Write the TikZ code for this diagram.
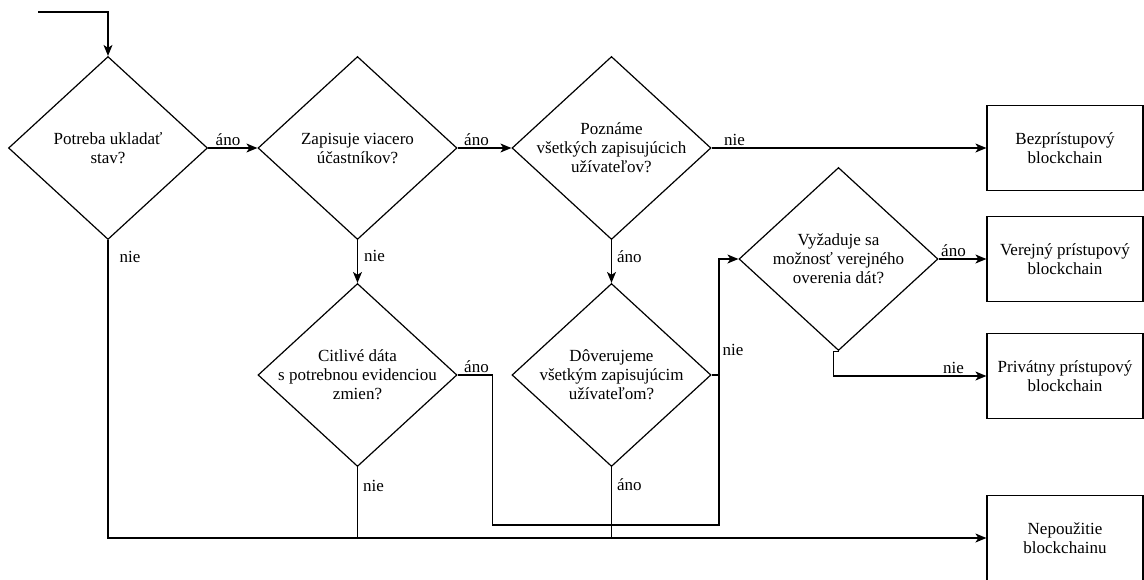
\documentclass[tikz,border=0pt]{standalone}
\usepackage{fontspec}
\setmainfont{Liberation Serif}
\usetikzlibrary{positioning, arrows.meta, shapes.geometric}

\begin{document}
\begin{tikzpicture}[x=1pt, y=-1pt, line width=1.2pt,
    font=\fontsize{17}{19}\selectfont,
    decision/.style={draw, diamond, minimum width=199pt, minimum height=183pt, inner sep=0pt},
    question/.style={align=center, inner sep=0pt},
    outcome/.style={draw, rectangle, minimum width=156pt, minimum height=85pt, align=center},
    answer/.style={inner sep=2pt},
    flow/.style={-{Stealth[length=11pt, width=9pt, inset=3pt]}}]
    \useasboundingbox (0,0) rectangle (1144,579);

    % decisions
    \node[decision] (d1) at (108,148) {};
    \node[decision] (d2) at (357.5,148) {};
    \node[decision] (d3) at (611.5,148) {};
    \node[decision] (d4) at (357.5,375) {};
    \node[decision] (d5) at (611.5,375) {};
    \node[decision] (d6) at (838.5,259) {};

    \node[question] (q1) at (d1) {Potreba ukladať\\stav?};
    \node[question] (q2) at (d2) {Zapisuje viacero\\účastníkov?};
    \node[question] (q3) at (d3) {Poznáme\\všetkých zapisujúcich\\užívateľov?};
    \node[question] (q4) at (d4) {Citlivé dáta\\s potrebnou evidenciou\\zmien?};
    \node[question] (q5) at (d5) {Dôverujeme\\všetkým zapisujúcim\\užívateľom?};
    \node[question] (q6) at (d6) {Vyžaduje sa\\možnosť verejného\\overenia dát?};

    % outcomes
    \node[outcome] (r1) at (1065,148) {Bezprístupový\\blockchain};
    \node[outcome] (r2) at (1065,259) {Verejný prístupový\\blockchain};
    \node[outcome] (r3) at (1065,376) {Privátny prístupový\\blockchain};
    \node[outcome] (r4) at (1065,538) {Nepoužitie\\blockchainu};

    \coordinate (entry) at (38,12);
    \coordinate (jn) at (719,525);

    % connectors
    \draw[flow] (entry) -| (d1.north);
    \draw[flow] (d1.east) -- node[answer, pos=0, anchor=south west, xshift=5pt] {áno} (d2.west);
    \draw[flow] (d1.south) -- node[answer, pos=0, anchor=north west, xshift=9pt, yshift=-9pt] {nie} (d1.south |- r4.west) -- (r4.west);
    \draw[flow] (d2.east) -- node[answer, pos=0, anchor=south west, xshift=4pt] {áno} (d3.west);
    \draw[flow] (d2.south) -- node[answer, pos=0, anchor=north west, xshift=4pt, yshift=-8pt] {nie} (d4.north);
    \draw[flow] (d3.east) -- node[answer, pos=0, anchor=south west, xshift=10pt] {nie} (r1.west);
    \draw[flow] (d3.south) -- node[answer, pos=0, anchor=north west, xshift=3pt, yshift=-8pt] {áno} (d5.north);
    \draw[flow] (d4.east) -- node[answer, pos=0, anchor=south west, xshift=4pt] {áno} ++(35,0) |- (jn) |- (d6.west);
    \draw (d4.south) -- node[answer, pos=0, anchor=north west, xshift=3pt, yshift=-11pt] {nie} (d4.south |- r4.west);
    \draw (d5.east) -- (d5.east -| jn) node[answer, anchor=south west, xshift=1pt, yshift=17pt] {nie};
    \draw (d5.south) -- node[answer, pos=0, anchor=north west, xshift=3pt, yshift=-9pt] {áno} (d5.south |- r4.west);
    \draw[flow] (d6.east) -- node[answer, pos=0, anchor=south west] {áno} (r2.west);
    \draw[flow] (d6.south) -- ++(-5,0) |- node[answer, pos=1, anchor=south east, xshift=-20pt] {nie} (r3.west);
\end{tikzpicture}
\end{document}
